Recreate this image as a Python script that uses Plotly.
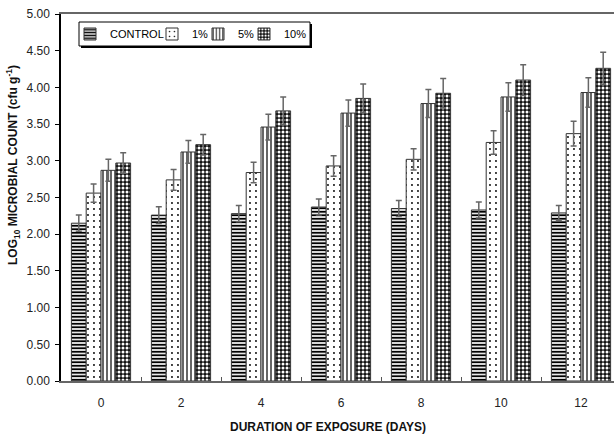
import plotly.graph_objects as go

days = ["0", "2", "4", "6", "8", "10", "12"]
series_names = ["CONTROL", "1%", "5%", "10%"]

control = [2.15, 2.26, 2.28, 2.37, 2.35, 2.33, 2.29]
pct1 = [2.56, 2.74, 2.84, 2.93, 3.02, 3.25, 3.37]
pct5 = [2.87, 3.12, 3.46, 3.65, 3.78, 3.87, 3.93]
pct10 = [2.97, 3.22, 3.68, 3.85, 3.92, 4.10, 4.26]

err_control = [0.11, 0.115, 0.11, 0.11, 0.11, 0.11, 0.10]
err_pct1 = [0.125, 0.14, 0.14, 0.14, 0.145, 0.16, 0.17]
err_pct5 = [0.15, 0.155, 0.175, 0.18, 0.19, 0.195, 0.20]
err_pct10 = [0.14, 0.14, 0.19, 0.195, 0.20, 0.21, 0.22]

values = [control, pct1, pct5, pct10]
errors = [err_control, err_pct1, err_pct5, err_pct10]

patterns = [
    dict(shape="-", size=3.5, solidity=0.55, fgcolor="black", bgcolor="white", fillmode="replace"),
    dict(shape=".", size=6, solidity=0.08, fgcolor="black", bgcolor="white", fillmode="replace"),
    dict(shape="|", size=4, solidity=0.3, fgcolor="black", bgcolor="white", fillmode="replace"),
    dict(shape=".", size=4, solidity=0.45, fgcolor="white", bgcolor="#111111", fillmode="replace"),
]

FONT = "Liberation Sans, Arial, sans-serif"
W, H = 614, 437
L, R, T, B = 61, 0, 14, 56
PW, PH = W - L - R, H - T - B

def px_x(p):
    return (p - L) / PW

def px_y(p):
    return (H - B - p) / PH

fig = go.Figure()
legend_keys = ["legend", "legend2", "legend3", "legend4"]
for name, vals, errs, pat, lk in zip(series_names, values, errors, patterns, legend_keys):
    fig.add_trace(go.Bar(
        x=days, y=vals, name=name, legend=lk,
        marker=dict(color="white", pattern=pat, line=dict(color="#333333", width=1)),
        error_y=dict(type="data", array=errs, visible=True, color="#666666", thickness=1.5, width=3),
    ))

# legend frame with shadow
box_l, box_r, box_t, box_b = 79, 310, 22, 46
fig.add_shape(type="rect", xref="paper", yref="paper",
              x0=px_x(box_l + 2), x1=px_x(box_r + 2), y0=px_y(box_b + 2), y1=px_y(box_t + 2),
              fillcolor="black", line=dict(width=0), layer="below")
fig.add_shape(type="rect", xref="paper", yref="paper",
              x0=px_x(box_l), x1=px_x(box_r), y0=px_y(box_b), y1=px_y(box_t),
              fillcolor="white", line=dict(color="black", width=1), layer="below")

legend_text_x = [110, 192, 238, 284]
layout_legends = {}
for lk, tx in zip(legend_keys, legend_text_x):
    layout_legends[lk] = dict(
        xref="paper", yref="paper",
        x=px_x(tx - 40), y=px_y(34), xanchor="left", yanchor="middle",
        bgcolor="rgba(0,0,0,0)", borderwidth=0,
        font=dict(family=FONT, size=11, color="black"),
        orientation="h",
    )

fig.update_layout(
    width=W, height=H, showlegend=True,
    margin=dict(l=L, r=R, t=T, b=B, autoexpand=False),
    paper_bgcolor="white", plot_bgcolor="white",
    barmode="group", bargap=0.26, bargroupgap=0,
    font=dict(family=FONT, size=12, color="#222222"),
    **layout_legends,
)

fig.update_xaxes(
    type="category", range=[-0.5, (614 - L) / 80 - 0.5], automargin=False,
    showline=True, linecolor="#666666", linewidth=1.5, mirror=True,
    ticks="inside", ticklen=4, tickcolor="#555555", tickson="boundaries",
    ticklabelstandoff=10, showgrid=False, zeroline=False,
    tickfont=dict(family=FONT, size=12, color="#222222"),
)
fig.update_yaxes(
    range=[0, 5], tickvals=[0, 0.5, 1, 1.5, 2, 2.5, 3, 3.5, 4, 4.5, 5],
    tickformat=".2f", automargin=False,
    showline=True, linecolor="black", linewidth=1.5, mirror=False,
    ticks="outside", ticklen=4, tickcolor="black",
    ticklabelstandoff=3, showgrid=False, zeroline=False,
    tickfont=dict(family=FONT, size=12, color="#222222"),
)

fig.add_annotation(
    text="<b>LOG<sub>10</sub> MICROBIAL COUNT (cfu g<sup>-1</sup>)</b>",
    xref="paper", yref="paper", x=px_x(13), y=px_y(165),
    textangle=-90, showarrow=False, xanchor="center", yanchor="middle",
    font=dict(family=FONT, size=12, color="#111111"),
)
fig.add_annotation(
    text="<b>DURATION OF EXPOSURE (DAYS)</b>",
    xref="paper", yref="paper", x=px_x(328), y=px_y(427),
    showarrow=False, xanchor="center", yanchor="middle",
    font=dict(family=FONT, size=12, color="#111111"),
)

fig.write_html(
    "out.html",
    config={"displayModeBar": False},
    post_script="document.body.style.margin='0';document.body.style.overflow='hidden';",
)
